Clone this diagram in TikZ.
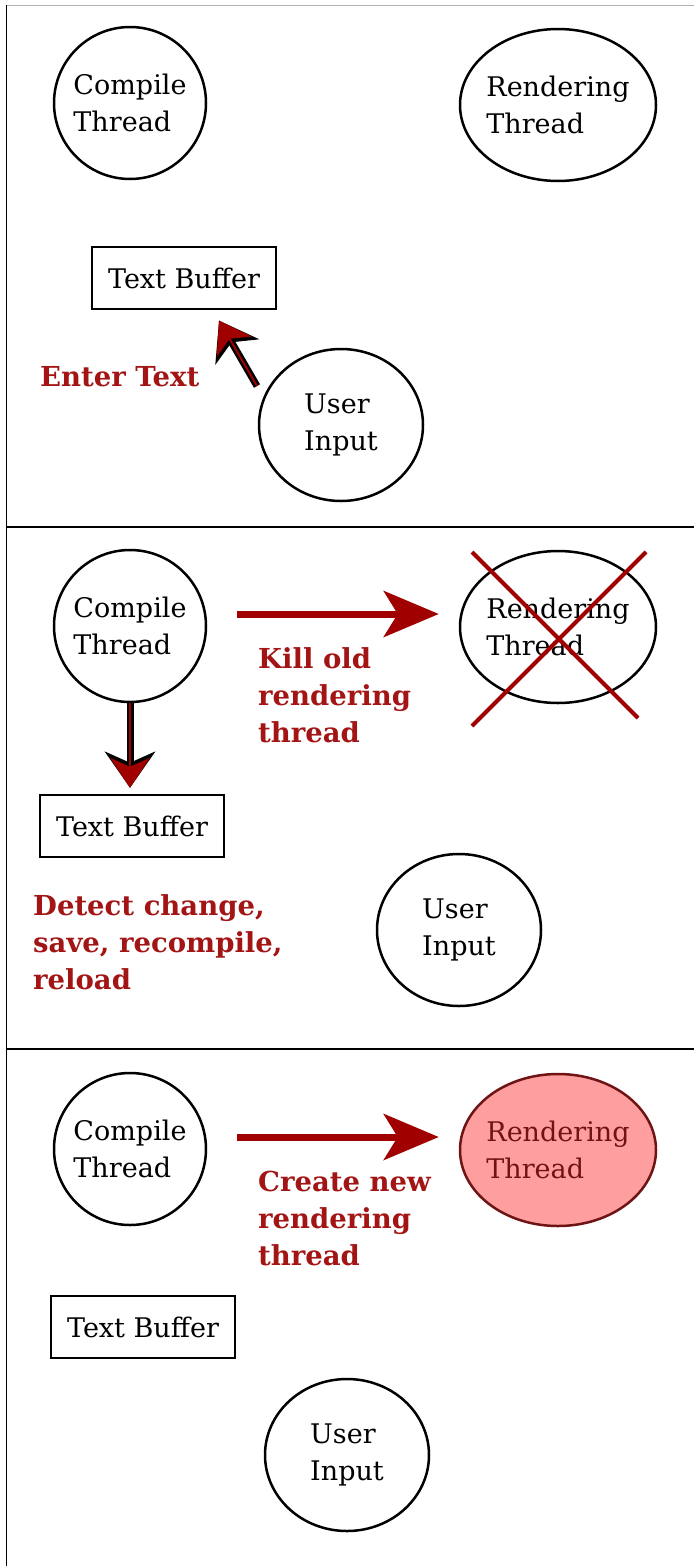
\documentclass[tikz,border=0pt]{standalone}
\usepackage{fontspec}
\setmainfont{DejaVu Serif}
\usetikzlibrary{arrows.meta,shapes.geometric}
\definecolor{darkred}{HTML}{A00000}
\definecolor{labelred}{HTML}{A31515}
\definecolor{pinkfill}{HTML}{FF9E9E}
\definecolor{rimred}{HTML}{6E1414}
\tikzset{
  thread/.style={draw,line width=2.5pt,circle,minimum size=152pt,inner sep=0pt,align=left,font=\fontsize{27}{37}\selectfont},
  renderer/.style={draw,line width=2.5pt,ellipse,minimum width=196pt,minimum height=152pt,inner sep=-12pt,align=left,font=\fontsize{27}{37}\selectfont},
  userin/.style={draw,line width=2.5pt,ellipse,minimum width=164pt,minimum height=152pt,inner sep=0pt,align=left,font=\fontsize{27}{37}\selectfont},
  buffer/.style={draw,line width=2.5pt,rectangle,minimum width=184pt,minimum height=62pt,inner sep=0pt,font=\fontsize{27}{37}\selectfont},
  note/.style={text=labelred,align=left,inner sep=0pt,font=\fontsize{27.5}{37}\selectfont\bfseries},
  bigarrow/.style={darkred,line width=7pt,-{Stealth[length=55pt,width=46pt,inset=14pt]}},
  outarrow/.style={darkred,line width=2pt,-{Stealth[length=30pt,width=40pt,inset=9pt]},
    preaction={draw=black,line width=7pt,-{Stealth[length=36pt,width=50pt,inset=11pt]}}}
}
\begin{document}
\begin{tikzpicture}[x=1pt,y=-1pt]
\useasboundingbox (0,0) rectangle (694,1566);

% frame
\draw [black!30,line width=1pt] (6,5) -- (694,5);
\draw [line width=1pt] (6,5) -- (6,1566);
\draw [line width=1.5pt] (6,527) -- (694,527);
\draw [line width=1.5pt] (6,1049) -- (694,1049);

% step 1
\node (C1) at (130,103)[thread] {Compile\\Thread};
\node (R1) at (558,105)[renderer] {Rendering\\Thread};
\node (B1) at (184,278)[buffer] {Text Buffer};
\node (U1) at (341,425)[userin] {User\\Input};
\coordinate (t1) at (257,386);
\draw [outarrow,shorten >=12pt] (t1) to ([xshift=29pt]B1.south);
\node (E1) at (40,377)[note,anchor=west] {Enter Text};

% step 2
\node (C2) at (130,626)[thread] {Compile\\Thread};
\node (R2) at (558,627)[renderer] {Rendering\\Thread};
\node (B2) at (132,826)[buffer] {Text Buffer};
\node (U2) at (459,930)[userin] {User\\Input};
\draw [bigarrow,shorten <=30pt,shorten >=20pt] (C2.east |- 0,614) to (R2.west |- 0,614);
\node (K2) at (258,695)[note,anchor=west] {Kill old\\rendering\\thread};
\draw [darkred,line width=4pt] (R2.center) ++(-86,-75) -- ++(166,166);
\draw [darkred,line width=4pt] (R2.center) ++(88,-75) -- ++(-174,174);
\draw [outarrow,shorten >=6pt] (C2) to (B2.north -| C2);
\node (D2) at (33,942)[note,anchor=west] {Detect change,\\save, recompile,\\reload};

% step 3
\node (C3) at (130,1149)[thread] {Compile\\Thread};
\node (R3) at (558,1150)[renderer,fill=pinkfill,draw=rimred,text=rimred] {Rendering\\Thread};
\node (B3) at (143,1327)[buffer] {Text Buffer};
\node (U3) at (347,1455)[userin] {User\\Input};
\draw [bigarrow,shorten <=30pt,shorten >=20pt] (C3.east |- 0,1137) to (R3.west |- 0,1137);
\node (N3) at (258,1218)[note,anchor=west] {Create new\\rendering\\thread};
\end{tikzpicture}
\end{document}
